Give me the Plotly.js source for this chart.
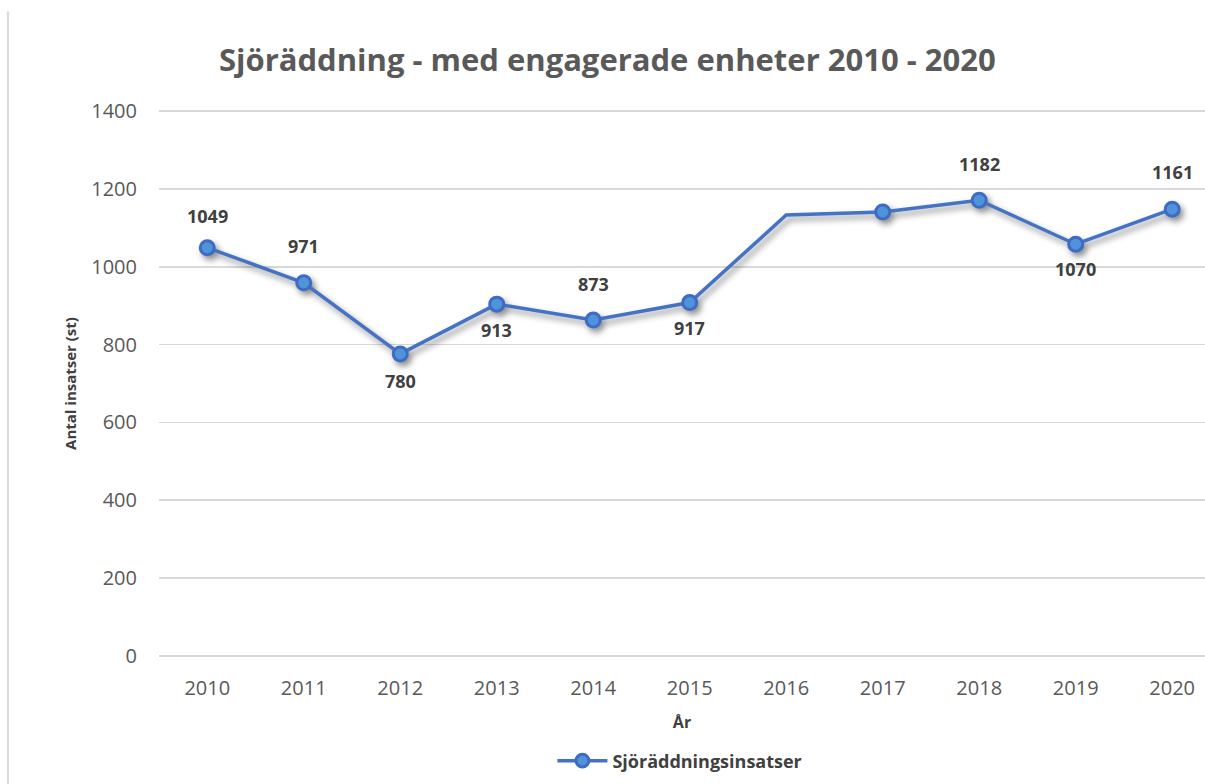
<!DOCTYPE html>
<html>
<head>
<meta charset="utf-8">
<script src="https://cdn.plot.ly/plotly-3.0.1.min.js"></script>
<style>
  html, body { margin: 0; padding: 0; background: #fff; }
  #chart { width: 1205px; height: 784px; }
</style>
</head>
<body>
<div id="chart"></div>
<script>
// Data
const years = ['2010','2011','2012','2013','2014','2015','2016','2017','2018','2019','2020'];
const insatser = [1049, 959, 776, 904, 863, 908, 1133, 1141, 1171, 1058, 1148];
const etiketter = ['1049','971','780','913','873','917','','','1182','1070','1161'];
const etikettPlacering = ['over','over','under','under','over','under','','','over','under','over'];
const seriesName = 'Sjöräddningsinsatser';
const yTicks = [0, 200, 400, 600, 800, 1000, 1200, 1400];

const FONT = '"Open Sans", "Noto Sans", sans-serif';

const markerSizes = years.map(y => (y === '2016' ? 0 : 14));

const trace = {
  type: 'scatter',
  mode: 'lines+markers',
  name: seriesName,
  x: years,
  y: insatser,
  line: { color: '#4472C4', width: 3.5 },
  marker: { size: markerSizes, color: '#4F93DA', opacity: 1, line: { color: '#3D6CC2', width: 3 } },
  hoverinfo: 'x+y'
};

const annotations = [];
etiketter.forEach((t, i) => {
  if (!t) return;
  annotations.push({
    x: i, y: Number(t), xref: 'x', yref: 'y',
    text: '<b>' + t + '</b>',
    showarrow: false,
    yshift: etikettPlacering[i] === 'over' ? 32 : -29,
    font: { family: FONT, size: 18, color: '#404040' }
  });
});

const layout = {
  width: 1205,
  height: 784,
  paper_bgcolor: '#ffffff',
  plot_bgcolor: '#ffffff',
  margin: { l: 159, r: 0, t: 110, b: 127 },
  title: {
    text: '<b>Sjöräddning - med engagerade enheter 2010 - 2020</b>',
    x: 0.504, xanchor: 'center',
    y: 0.923, yanchor: 'middle',
    font: { family: FONT, size: 31, color: '#595959' }
  },
  xaxis: {
    type: 'category',
    range: [-0.5, 10.34],
    showgrid: false,
    showline: false,
    zeroline: false,
    ticks: '',
    tickfont: { family: FONT, size: 20, color: '#595959' },
    ticklabelstandoff: 17,
    title: { text: '<b>År</b>', font: { family: FONT, size: 16, color: '#404040' }, standoff: 16 }
  },
  yaxis: {
    range: [-3, 1403],
    tickvals: yTicks,
    ticktext: yTicks.map(String),
    showgrid: true,
    gridcolor: '#d9d9d9',
    gridwidth: 1.5,
    zeroline: false,
    showline: false,
    ticks: '',
    tickfont: { family: FONT, size: 20, color: '#595959' },
    ticklabelstandoff: 21,
    title: { text: '<b>Antal insatser (st)</b>', font: { family: FONT, size: 15, color: '#404040' }, standoff: 11 }
  },
  showlegend: true,
  legend: {
    orientation: 'h',
    x: 0.498, xanchor: 'center',
    y: -0.19, yanchor: 'middle',
    font: { family: FONT, size: 18, color: '#404040', weight: 'bold' },
    itemwidth: 50
  },
  shapes: [{
    type: 'line', xref: 'paper', yref: 'paper',
    x0: -0.1444, x1: -0.1444, y0: 1.18, y1: -0.26,
    line: { color: '#d9d9d9', width: 2 }
  }],
  annotations: annotations
};

Plotly.newPlot('chart', [trace], layout, { displayModeBar: false, staticPlot: true }).then(() => {
  document.querySelectorAll('.scatterlayer .trace').forEach(el => {
    el.style.filter = 'drop-shadow(3px 4px 3px rgba(0,0,0,0.45))';
  });
});
</script>
</body>
</html>
